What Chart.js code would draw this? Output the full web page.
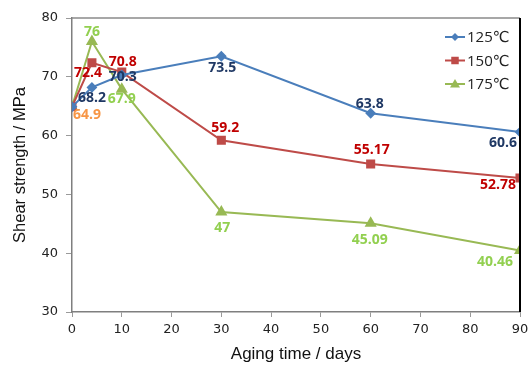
<!DOCTYPE html>
<html lang="en">
<head>
  <meta charset="UTF-8" />
  <title>Shear strength vs aging time</title>
  <script src="https://cdn.jsdelivr.net/npm/chart.js@4.4.0/dist/chart.umd.min.js"></script>
  <style>
    body { margin: 0; background: #ffffff; }
    #wrap { width: 530px; height: 365px; position: relative; }
  </style>
</head>
<body>
  <div id="wrap"><canvas id="shearChart" width="530" height="365"></canvas></div>
  <script>
    // aging time (days)
    const days = [0, 4, 10, 30, 60, 90];
    const series125 = [64.9, 68.2, 70.3, 73.5, 63.8, 60.6];
    const series150 = [64.9, 72.4, 70.8, 59.2, 55.17, 52.78];
    const series175 = [64.9, 76, 67.9, 47, 45.09, 40.46];
    const seriesNames = ['125℃', '150℃', '175℃'];
    const xTicks = [0, 10, 20, 30, 40, 50, 60, 70, 80, 90];
    const yTicks = [30, 40, 50, 60, 70, 80];

    // label placement per point: [dx, dy] in pixels, null = no label
    const labelOffsets = [
      [null, [0, 11], [1, 2], [1, 12], [-1, -9], [-17, 11]],
      [[15, 8], [-4, 10], [1, -10], [4, -12], [1, -14], [-22, 7]],
      [null, [0, -10], [0, 10], [1, 16], [-1, 17], [-25, 12]]
    ];
    const labelColors = ['#1f3864', '#c00000', '#92d050'];
    const firstLabelColor = '#f79646';

    const toPoints = arr => arr.map((v, i) => ({ x: days[i], y: v }));

    const valueLabels = {
      id: 'valueLabels',
      afterDatasetsDraw(chart) {
        const ctx = chart.ctx;
        ctx.save();
        ctx.font = 'bold 14px "Open Sans", "DejaVu Sans", sans-serif';
        ctx.textAlign = 'center';
        ctx.textBaseline = 'middle';
        chart.data.datasets.forEach((ds, di) => {
          const meta = chart.getDatasetMeta(di);
          meta.data.forEach((pt, i) => {
            const off = labelOffsets[di][i];
            if (!off) return;
            ctx.fillStyle = (i === 0) ? firstLabelColor : labelColors[di];
            ctx.fillText(String(ds.data[i].y), pt.x + off[0], pt.y + off[1]);
          });
        });
        ctx.restore();
      }
    };

    const frameAndLegend = {
      id: 'frameAndLegend',
      afterDraw(chart) {
        const ctx = chart.ctx;
        const a = chart.chartArea;
        ctx.save();
        ctx.strokeStyle = '#8a8a8a';
        ctx.lineWidth = 1.5;
        ctx.beginPath();
        ctx.moveTo(a.left, a.top);
        ctx.lineTo(a.right, a.top);
        ctx.stroke();
        ctx.strokeStyle = '#000000';
        ctx.lineWidth = 2;
        ctx.beginPath();
        ctx.moveTo(a.right, a.top);
        ctx.lineTo(a.right, a.bottom);
        ctx.stroke();

        // legend in upper right of plot
        ctx.font = '15px "Open Sans", "DejaVu Sans", sans-serif';
        ctx.textBaseline = 'middle';
        ctx.textAlign = 'left';
        chart.data.datasets.forEach((ds, di) => {
          const y = a.top + 19 + di * 23.5;
          const x0 = a.left + 373;
          ctx.strokeStyle = ds.borderColor;
          ctx.lineWidth = 2;
          ctx.beginPath();
          ctx.moveTo(x0, y);
          ctx.lineTo(x0 + 20, y);
          ctx.stroke();
          ctx.fillStyle = ds.backgroundColor;
          const cx = x0 + 10;
          const r = ds.pointRadius;
          ctx.beginPath();
          if (ds.pointStyle === 'rectRot') {
            ctx.moveTo(cx, y - r); ctx.lineTo(cx + r, y); ctx.lineTo(cx, y + r); ctx.lineTo(cx - r, y);
          } else if (ds.pointStyle === 'rect') {
            ctx.rect(cx - r * 0.75, y - r * 0.75, r * 1.5, r * 1.5);
          } else {
            ctx.moveTo(cx, y - r); ctx.lineTo(cx + r, y + r * 0.7); ctx.lineTo(cx - r, y + r * 0.7);
          }
          ctx.closePath();
          ctx.fill();
          ctx.fillStyle = '#222222';
          ctx.fillText(seriesNames[di], x0 + 22, y + 1);
        });
        ctx.restore();
      }
    };

    new Chart(document.getElementById('shearChart').getContext('2d'), {
      type: 'line',
      data: {
        datasets: [
          { label: seriesNames[0], data: toPoints(series125), borderColor: '#4a7ebb', backgroundColor: '#4a7ebb',
            pointStyle: 'rectRot', pointRadius: 4, borderWidth: 2, tension: 0 },
          { label: seriesNames[1], data: toPoints(series150), borderColor: '#be4b48', backgroundColor: '#be4b48',
            pointStyle: 'rect', pointRadius: 5, borderWidth: 2, tension: 0 },
          { label: seriesNames[2], data: toPoints(series175), borderColor: '#98b954', backgroundColor: '#98b954',
            pointStyle: 'triangle', pointRadius: 5, borderWidth: 2, tension: 0 }
        ]
      },
      options: {
        responsive: false,
        animation: false,
        layout: { padding: { top: 18, right: 10, left: 0, bottom: 0 } },
        plugins: { legend: { display: false }, tooltip: { enabled: false } },
        scales: {
          x: {
            type: 'linear', min: 0, max: 90,
            afterBuildTicks: s => { s.ticks = xTicks.map(v => ({ value: v })); },
            afterFit: s => { s.height = 53; s.paddingRight = 0; s.paddingLeft = 0; },
            grid: { drawOnChartArea: false, color: '#9a9a9a', tickLength: 5 },
            border: { color: '#7f7f7f', width: 1.5 },
            ticks: { color: '#222222', font: { family: '"DejaVu Sans", sans-serif', size: 13 }, padding: 5, maxRotation: 0 },
            title: { display: true, text: 'Aging time / days', color: '#111111',
                     font: { family: '"Liberation Sans", Arial, sans-serif', size: 17 }, padding: { top: 10, bottom: 0 } }
          },
          y: {
            min: 30, max: 80,
            afterBuildTicks: s => { s.ticks = yTicks.map(v => ({ value: v })); },
            afterFit: s => { s.width = 72; },
            grid: { drawOnChartArea: false, color: '#9a9a9a', tickLength: 6 },
            border: { color: '#7f7f7f', width: 1.5 },
            ticks: { color: '#222222', font: { family: '"DejaVu Sans", sans-serif', size: 13 }, padding: 8 },
            title: { display: true, text: 'Shear strength / MPa', color: '#111111',
                     font: { family: '"Liberation Sans", Arial, sans-serif', size: 16.5 }, padding: { top: 11, bottom: 4 } }
          }
        }
      },
      plugins: [valueLabels, frameAndLegend]
    });
  </script>
</body>
</html>
